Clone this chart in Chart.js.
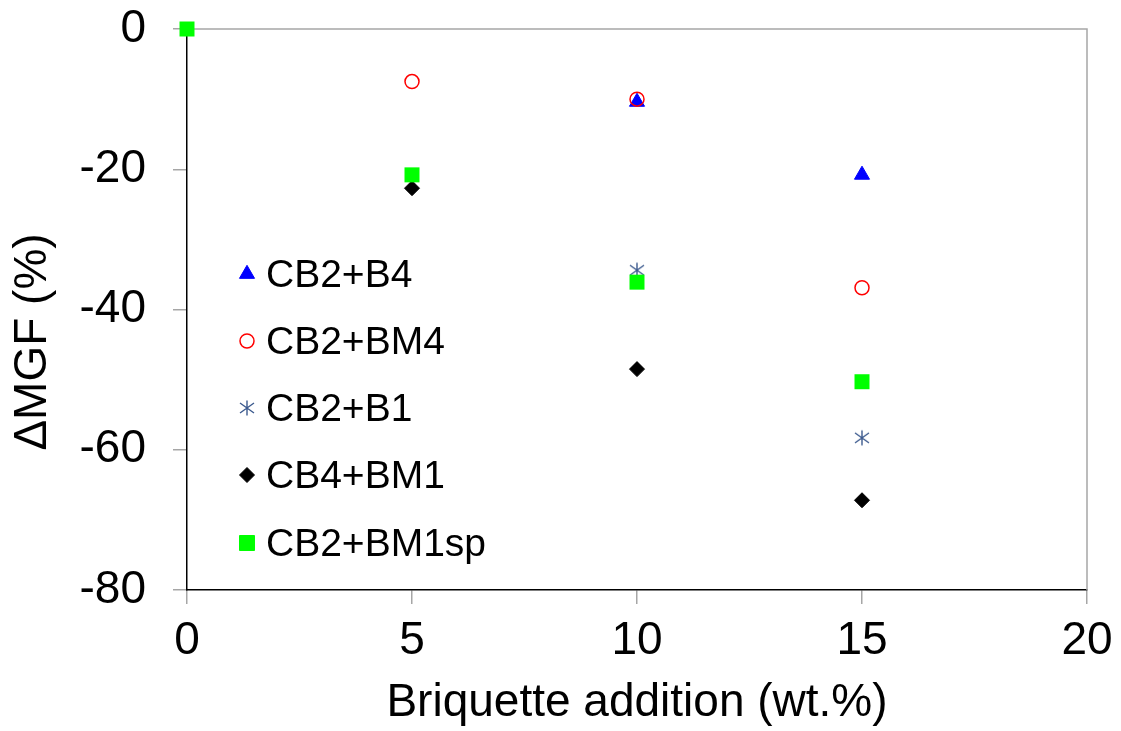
<!DOCTYPE html>
<html lang="en">
<head>
  <meta charset="UTF-8" />
  <title>Delta MGF vs briquette addition</title>
  <script src="https://cdn.jsdelivr.net/npm/chart.js"></script>
  <style>
    body { margin: 0; background: #fff; }
    #wrap { width: 1121px; height: 731px; }
  </style>
</head>
<body>
  <div id="wrap"><canvas id="mgfChart" width="1121" height="731"></canvas></div>

  <script>
    // data
    const seriesNames = ['CB2+B4', 'CB2+BM4', 'CB2+B1', 'CB4+BM1', 'CB2+BM1sp'];
    const xB4 = [10, 15];
    const yB4 = [-10.4, -20.8];
    const xBM4 = [5, 10, 15];
    const yBM4 = [-7.5, -10.0, -36.9];
    const xB1 = [10, 15];
    const yB1 = [-34.4, -58.3];
    const xBM1 = [5, 10, 15];
    const yBM1 = [-22.7, -48.5, -67.2];
    const xBM1sp = [0, 5, 10, 15];
    const yBM1sp = [0, -20.8, -36.1, -50.3];
    const xTicks = [0, 5, 10, 15, 20];
    const yTicks = [-80, -60, -40, -20, 0];

    const FONT = "'Liberation Sans', Arial, sans-serif";

    // 6-armed asterisk marker
    function makeAsterisk(color) {
      const c = document.createElement('canvas');
      c.width = 18; c.height = 18;
      const g = c.getContext('2d');
      g.strokeStyle = color;
      g.lineWidth = 1.4;
      g.beginPath();
      g.moveTo(9, 1.5); g.lineTo(9, 16.5);
      g.moveTo(2, 4); g.lineTo(16, 14);
      g.moveTo(16, 4); g.lineTo(2, 14);
      g.stroke();
      return c;
    }
    const asterisk = makeAsterisk('#3c5a8e');

    function pts(xs, ys) {
      return xs.map((x, i) => ({ x: x, y: ys[i] }));
    }

    const datasets = [
      { label: seriesNames[0], data: pts(xB4, yB4), pointStyle: 'triangle', pointRadius: 8.7,
        backgroundColor: '#0000ff', borderColor: '#0000ff', borderWidth: 1, order: 4, clip: false },
      { label: seriesNames[1], data: pts(xBM4, yBM4), pointStyle: 'circle', pointRadius: 7,
        backgroundColor: 'rgba(0,0,0,0)', borderColor: '#ff0000', borderWidth: 1.5, order: 3, clip: false },
      { label: seriesNames[2], data: pts(xB1, yB1), pointStyle: asterisk, pointRadius: 9,
        backgroundColor: '#3c5a8e', borderColor: '#3c5a8e', order: 2, clip: false },
      { label: seriesNames[3], data: pts(xBM1, yBM1), pointStyle: 'rectRot', pointRadius: 7.5,
        backgroundColor: '#000000', borderColor: '#000000', borderWidth: 1, order: 1, clip: false },
      { label: seriesNames[4], data: pts(xBM1sp, yBM1sp), pointStyle: 'rect', pointRadius: 10.6,
        backgroundColor: '#00ff00', borderColor: '#00ff00', borderWidth: 0, order: 0, clip: false }
    ];

    // grey frame on top / right, black axes are drawn over it
    const framePlugin = {
      id: 'frame',
      beforeDatasetsDraw(chart) {
        const a = chart.chartArea, ctx = chart.ctx;
        ctx.save();
        ctx.strokeStyle = '#a6a6a6';
        ctx.lineWidth = 1.5;
        ctx.beginPath();
        ctx.moveTo(a.left, a.top);
        ctx.lineTo(a.right, a.top);
        ctx.lineTo(a.right, a.bottom);
        ctx.stroke();
        ctx.restore();
      }
    };

    // y title sits a bit below the middle of the plot in the original
    const yTitlePlugin = {
      id: 'yTitle',
      afterDraw(chart) {
        const ctx = chart.ctx;
        ctx.save();
        ctx.translate(33, 342);
        ctx.rotate(-Math.PI / 2);
        ctx.fillStyle = '#000';
        ctx.font = '46px ' + FONT;
        ctx.textAlign = 'center';
        ctx.textBaseline = 'middle';
        ctx.fillText('\u0394MGF (%)', 0, 0);
        ctx.restore();
      }
    };

    // legend inside the plot, drawn by hand
    const legendPlugin = {
      id: 'innerLegend',
      afterDatasetsDraw(chart) {
        const ctx = chart.ctx;
        const rowY = [274, 341, 408, 475, 543];
        ctx.save();
        chart.data.datasets.forEach((ds, i) => {
          ctx.fillStyle = ds.backgroundColor;
          ctx.strokeStyle = ds.borderColor;
          ctx.lineWidth = ds.borderWidth || 1;
          Chart.helpers.drawPoint(ctx, { pointStyle: ds.pointStyle, radius: ds.pointRadius, rotation: 0, borderWidth: ds.borderWidth || 1 }, 247, rowY[i]);
          ctx.fillStyle = '#000';
          ctx.font = '39px ' + FONT;
          ctx.textBaseline = 'alphabetic';
          ctx.textAlign = 'left';
          ctx.fillText(ds.label, 266, rowY[i] + 13);
        });
        ctx.restore();
      }
    };

    new Chart(document.getElementById('mgfChart'), {
      type: 'scatter',
      data: { datasets: datasets },
      options: {
        responsive: false,
        animation: false,
        layout: { padding: { left: 0, top: 29, right: 34, bottom: 0 } },
        plugins: { legend: { display: false }, tooltip: { enabled: false } },
        scales: {
          x: {
            type: 'linear',
            min: 0, max: 20,
            afterBuildTicks: s => { s.ticks = xTicks.map(v => ({ value: v })); },
            afterFit: s => { s.height = 141; s.paddingLeft = 0; s.paddingRight = 0; },
            border: { color: '#000', width: 1.5 },
            grid: { drawOnChartArea: false, drawTicks: true, tickLength: 14, color: '#a6a6a6', lineWidth: 1.5 },
            ticks: { color: '#000', font: { family: FONT, size: 46 }, padding: 10, maxRotation: 0 },
            title: { display: true, text: 'Briquette addition (wt.%)', color: '#000',
                     font: { family: FONT, size: 46 }, padding: { top: 0, bottom: 0 } }
          },
          y: {
            min: -80, max: 0,
            afterBuildTicks: s => { s.ticks = yTicks.map(v => ({ value: v })); },
            afterFit: s => { s.width = 187; s.paddingTop = 0; s.paddingBottom = 0; },
            border: { color: '#000', width: 1.5 },
            grid: { drawOnChartArea: false, drawTicks: true, tickLength: 14, color: '#a6a6a6', lineWidth: 1.5 },
            ticks: { color: '#000', font: { family: FONT, size: 46 }, padding: 27 },
            title: { display: false }
          }
        }
      },
      plugins: [framePlugin, legendPlugin, yTitlePlugin]
    });
  </script>
</body>
</html>
